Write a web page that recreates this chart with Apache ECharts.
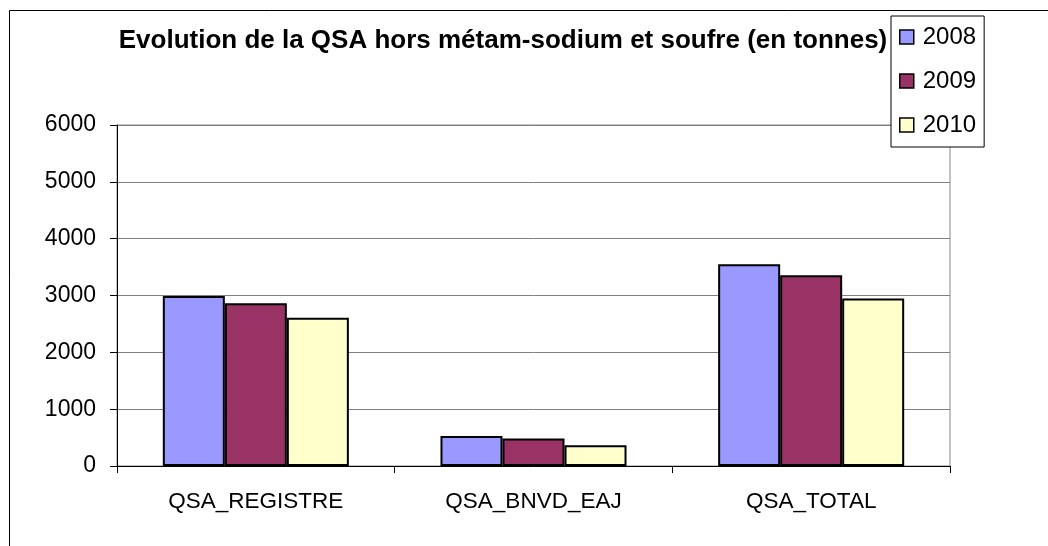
<!DOCTYPE html>
<html><head><meta charset="utf-8">
<script src="https://cdn.jsdelivr.net/npm/echarts@6/dist/echarts.min.js"></script>
<style>html,body{margin:0;padding:0;background:#fff}#c{width:1048px;height:546px}</style>
</head><body><div id="c"></div>
<script>
const categories = ['QSA_REGISTRE', 'QSA_BNVD_EAJ', 'QSA_TOTAL'];
const s2008 = [2990, 528, 3549];
const s2009 = [2863, 486, 3356];
const s2010 = [2610, 363, 2946];
const seriesNames = ['2008', '2009', '2010'];
const colors = ['#9999FF', '#993366', '#FFFFCC'];
const chart = echarts.init(document.getElementById('c'), null, {renderer: 'canvas'});
const data = [s2008, s2009, s2010];
const FF = 'Liberation Sans, Arial, sans-serif';
chart.setOption({
  animation: false,
  title: {
    text: 'Evolution de la QSA hors métam-sodium et soufre (en tonnes)',
    left: 498, top: 23, textAlign: 'center',
    textStyle: {fontFamily: FF, fontSize: 26, fontWeight: 'bold', color: '#000'}
  },
  legend: {
    orient: 'vertical', left: 891, top: 16,
    padding: [9, 8, 10, 8], itemGap: 20,
    backgroundColor: '#fff', borderColor: '#000', borderWidth: 1,
    itemWidth: 14, itemHeight: 14, icon: 'rect',
    textStyle: {fontFamily: FF, fontSize: 24, color: '#000', padding: [0, 0, 0, 4], lineHeight: 24},
    data: seriesNames.map((n, i) => ({name: n, itemStyle: {color: colors[i], borderColor: '#000', borderWidth: 1.5}}))
  },
  grid: {left: 117, right: 98, top: 125, bottom: 80, containLabel: false, show: true, borderColor: '#888', borderWidth: 1},
  xAxis: {
    type: 'category', data: categories,
    axisLine: {lineStyle: {color: '#000', width: 1}},
    axisTick: {show: true, inside: false, length: 7, lineStyle: {color: '#000'}},
    axisLabel: {fontFamily: FF, fontSize: 22.5, color: '#000', margin: 24}
  },
  yAxis: {
    type: 'value', min: 0, max: 6000, interval: 1000,
    axisLine: {show: true, lineStyle: {color: '#000', width: 1}},
    axisTick: {show: true, length: 7, lineStyle: {color: '#000'}},
    axisLabel: {fontFamily: FF, fontSize: 23, color: '#000', margin: 21, formatter: v => String(v)},
    splitLine: {lineStyle: {color: '#808080', width: 1}}
  },
  series: seriesNames.map((n, i) => ({
    name: n, type: 'bar', data: data[i],
    barGap: '0%', barCategoryGap: '33%',
    itemStyle: {color: colors[i], borderColor: '#000', borderWidth: 2}
  })),
  graphic: [{
    type: 'rect', left: 7, top: 8, z: -1,
    shape: {width: 1039, height: 545},
    style: {fill: 'none', stroke: '#000', lineWidth: 1}
  }]
});
</script></body></html>
